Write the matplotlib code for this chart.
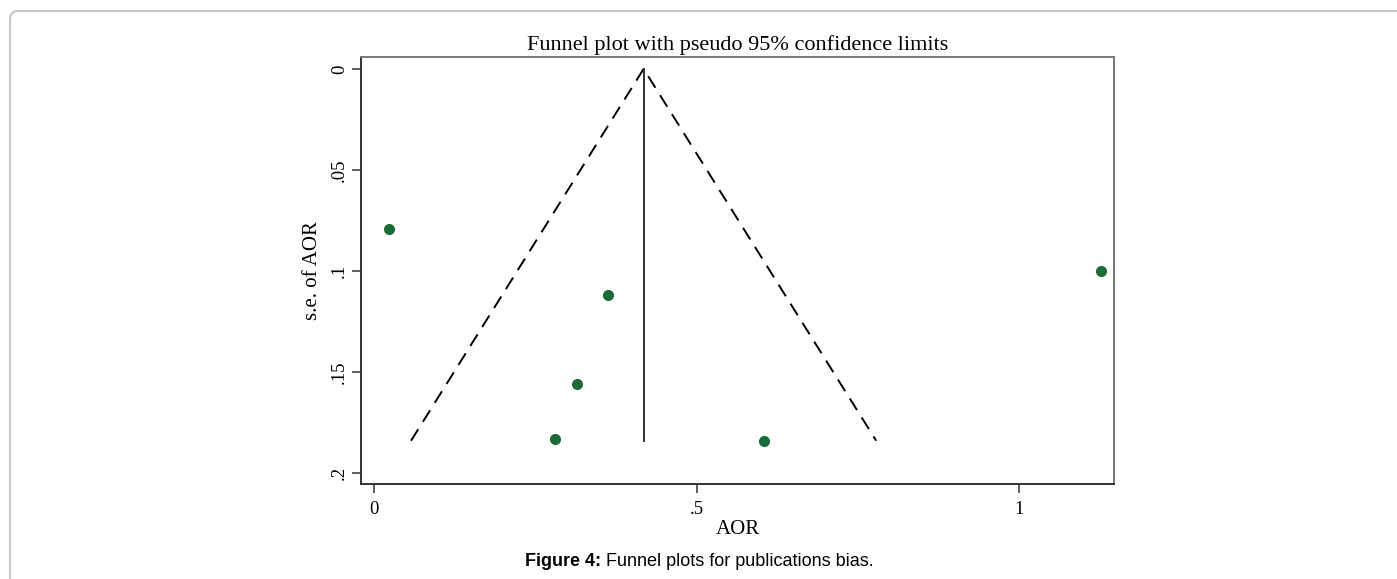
import matplotlib
matplotlib.use("Agg")
import matplotlib.pyplot as plt
import matplotlib.patches as mpatches
from matplotlib.transforms import IdentityTransform

# study estimates
aor = [0.023, 1.127, 0.363, 0.314, 0.281, 0.604]
se_aor = [0.079, 0.100, 0.112, 0.156, 0.183, 0.184]
pooled = 0.418

x_ticks = [0, 0.5, 1]
x_tick_labels = ["0", ".5", "1"]
y_ticks = [0, 0.05, 0.1, 0.15, 0.2]
y_tick_labels = ["0", ".05", ".1", ".15", ".2"]

W, H = 1397, 579
SERIF = ["Liberation Serif", "DejaVu Serif"]
SANS = ["Liberation Sans", "DejaVu Sans"]

fig = plt.figure(figsize=(W / 100, H / 100), dpi=100)

# page frame (only top-left corner shows)
frame = mpatches.FancyBboxPatch(
    (10, -60), 1600, H - 11 + 60,
    boxstyle="round,pad=0,rounding_size=8",
    transform=IdentityTransform(), facecolor="none",
    edgecolor="#bdbdbd", linewidth=1.2,
)
fig.patches.append(frame)

ax = fig.add_axes([361 / W, 1 - 484 / H, (1114 - 361) / W, (484 - 57) / H])

# pseudo 95% confidence limits
se_max = max(se_aor)
ax.plot([pooled - 1.96 * se_max, pooled, pooled + 1.96 * se_max],
        [se_max, 0, se_max], color="black", linestyle=(0, (7, 4.5)), linewidth=1.4)
ax.plot([pooled, pooled], [0, se_max], color="#222222", linewidth=1.3)

ax.plot(aor, se_aor, "o", color="#1b6b38", markersize=8, markeredgewidth=0)

ax.set_xlim(-0.0202, 1.1473)
ax.set_ylim(0.2054, -0.0059)

ax.set_xticks(x_ticks)
ax.set_xticklabels(x_tick_labels, family=SERIF, fontsize=13.5)
ax.set_yticks(y_ticks)
ax.set_yticklabels(y_tick_labels, family=SERIF, fontsize=13.5, rotation=90, va="center")
ax.tick_params(direction="out", length=6.5, width=1.2, color="#444444")
ax.tick_params(axis="x", pad=6)
ax.tick_params(axis="y", pad=3)

for side, spine in ax.spines.items():
    spine.set_linewidth(1.4)
    spine.set_color("#333333" if side in ("left", "bottom") else "#777777")

ax.set_xlabel("AOR", family=SERIF, fontsize=15, labelpad=1)
ax.set_ylabel("s.e. of AOR", family=SERIF, fontsize=15, labelpad=6)
ax.set_title("Funnel plot with pseudo 95% confidence limits", family=SERIF,
             fontsize=16, pad=5)

# caption: bold lead-in followed by regular text
cap_y = 1 - 561 / H
t1 = fig.text(525 / W, cap_y, "Figure 4:", family=SANS, fontsize=13,
              fontweight="bold", va="center", ha="left")
renderer = fig.canvas.get_renderer()
bb = t1.get_window_extent(renderer)
fig.text(bb.x1 / W + 5 / W, cap_y, "Funnel plots for publications bias.",
         family=SANS, fontsize=13, va="center", ha="left")

fig.savefig("out.png", dpi=100)
